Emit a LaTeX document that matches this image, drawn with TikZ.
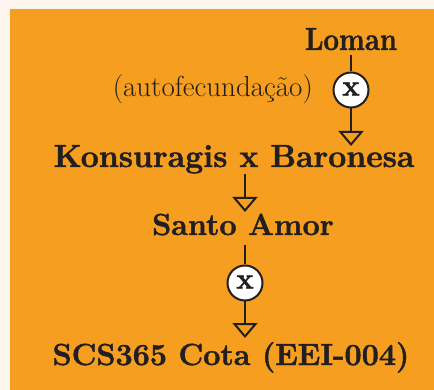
\documentclass[tikz,border=0pt]{standalone}
\usepackage{fontspec}
\setmainfont{Latin Modern Roman}[BoldFeatures={FakeBold=1.5}]
\usetikzlibrary{arrows.meta}
\definecolor{cream}{HTML}{FDF4EE}
\definecolor{orangebg}{HTML}{F59E1F}
\definecolor{ink}{HTML}{231F20}
\tikzset{
  lbl/.style={inner sep=0pt, anchor=base, text=ink, font=\bfseries\fontsize{#1}{#1}\selectfont},
  lbl/.default=31,
  note/.style={inner sep=0pt, anchor=base, text=ink, font=\fontsize{29}{32}\selectfont},
  cross/.style={circle, draw=ink, fill=white, line width=2pt, minimum size=35pt, inner sep=0pt, text=ink, font=\bfseries\fontsize{29}{29}\selectfont},
  link/.style={draw=ink, line width=2pt},
  arr/.style={link, -{Triangle[open, length=15pt, width=25pt]}}
}
\begin{document}
\begin{tikzpicture}[x=1pt,y=-1pt]
\useasboundingbox (0,0) rectangle (434,390);
\fill[cream] (0,0) rectangle (434,390);
\fill[orangebg] (10,9) rectangle (434,390);
\node[lbl=32] (loman) at (351,50) {\scalebox{0.86}[1]{Loman}};
\node[cross] (c1) at (351,90) {\raisebox{2pt}{x}};
\node[note, anchor=base east] (auto) at (313,97) {(autofecundação)};
\node[lbl=32] (kb) at (234,167) {Konsuragis x Baronesa};
\node[lbl=30.5] (sa) at (243,235) {Santo Amor};
\node[cross] (c2) at (245,283) {\raisebox{2pt}{x}};
\node[lbl=30.5] (scs) at (231,365) {SCS365 Cota (EEI-004)};
\draw[link] ([yshift=-5pt]loman.south) -- (c1.north);
\draw[arr] (c1.south) -- (c1 |- 0,146);
\draw[arr] (c2 |- 0,174) -- (c2 |- 0,212);
\draw[link] (c2 |- 0,245) -- (c2.north);
\draw[arr] (c2.south) -- (c2 |- 0,338);
\end{tikzpicture}
\end{document}
